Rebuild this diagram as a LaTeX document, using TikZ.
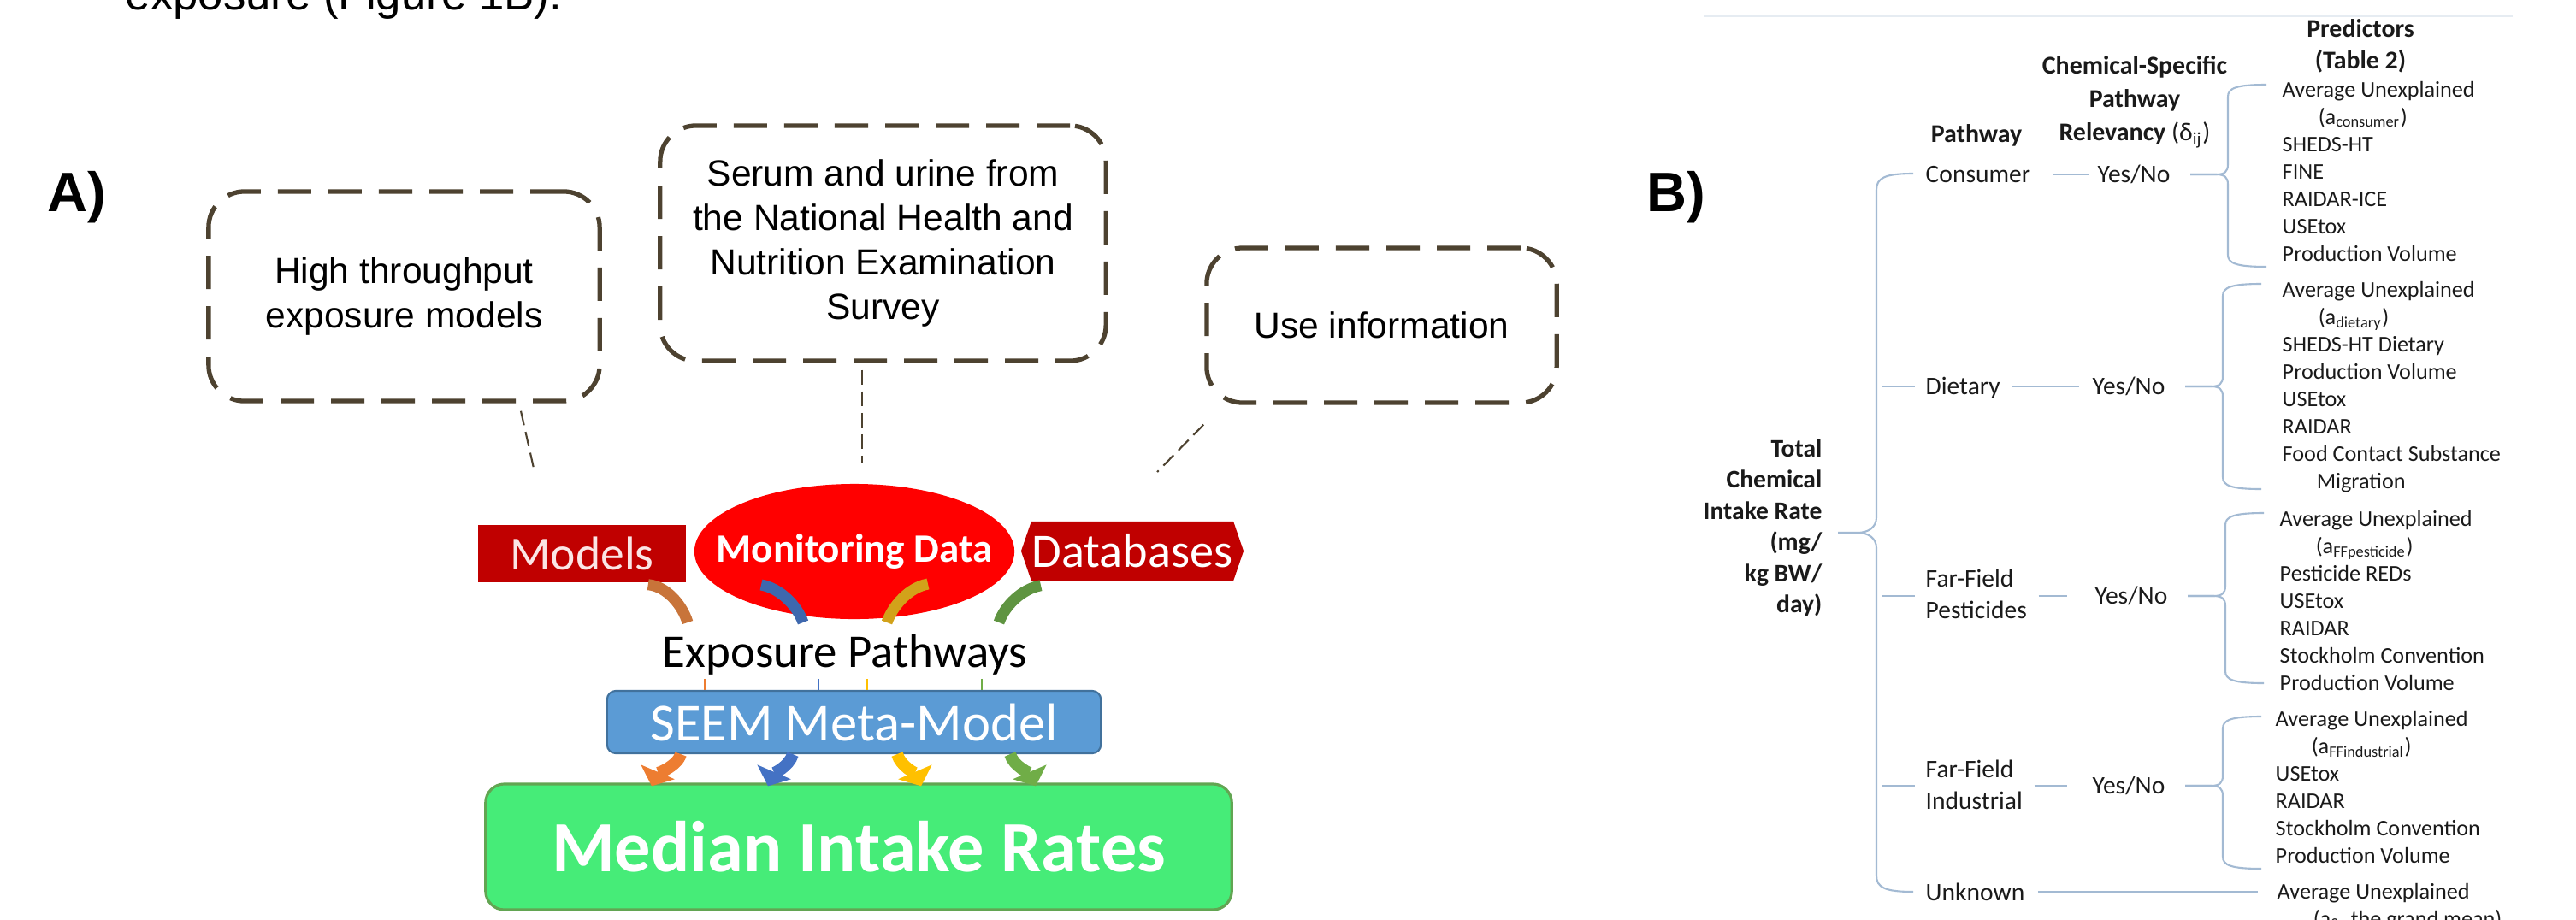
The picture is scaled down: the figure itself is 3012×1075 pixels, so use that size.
\documentclass[tikz,border=0pt]{standalone}
\usepackage{fontspec}
\setmainfont{Liberation Sans}
\newfontfamily\cali{Carlito}
\usepackage{xcolor}
\usepackage{tikz}
\usetikzlibrary{shapes.geometric, shapes.symbols, arrows.meta, positioning, calc}
\definecolor{calloutbrown}{HTML}{4D4230}
\definecolor{dkred}{HTML}{C00000}
\definecolor{brred}{HTML}{FF0000}
\definecolor{modeltxt}{HTML}{FBE5E5}
\definecolor{seemblue}{HTML}{5B9BD5}
\definecolor{seemedge}{HTML}{41719C}
\definecolor{medgreen}{HTML}{46EC78}
\definecolor{medgedge}{HTML}{62A552}
\definecolor{arrorange}{HTML}{ED7D31}
\definecolor{arrblue}{HTML}{4472C4}
\definecolor{arryellow}{HTML}{FFC000}
\definecolor{arrgreen}{HTML}{70AD47}
\definecolor{uporange}{HTML}{C8743A}
\definecolor{upblue}{HTML}{3E68AE}
\definecolor{upyellow}{HTML}{D2A21A}
\definecolor{upgreen}{HTML}{5F9441}
\definecolor{treeblue}{HTML}{A3BAD3}
\definecolor{treetext}{HTML}{1A1A1A}
\definecolor{faintline}{HTML}{E6ECF2}
\tikzstyle{panel} = [anchor=base west, inner sep=0pt, font=\bfseries\fontsize{18.5pt}{22pt}\selectfont]
\tikzstyle{callout} = [rectangle, draw=calloutbrown, line width=1.5pt, dash pattern=on 0.39cm off 0.2cm, rounded corners=0.42cm, align=center, inner sep=0pt, font=\fontsize{12.1pt}{14.8pt}\selectfont]
\tikzstyle{pointer} = [draw=calloutbrown, line width=0.6pt, dash pattern=on 0.17cm off 0.08cm]
\tikzstyle{band} = [line width=0.13cm]
\tikzstyle{bandarrow} = [line width=0.14cm, -{Triangle[width=0.42cm,length=0.18cm]}]
\tikzstyle{tick} = [line width=0.6pt]
\tikzstyle{branch} = [draw=treeblue, line width=0.6pt]
\tikzstyle{pred} = [anchor=base west, inner sep=0pt, text=treetext, font=\cali\fontsize{7.45pt}{9pt}\selectfont]
\tikzstyle{pathlbl} = [anchor=west, inner sep=0pt, align=left, text=treetext, font=\cali\fontsize{8.4pt}{10.5pt}\selectfont]
\tikzstyle{yesno} = [inner sep=0pt, text=treetext, font=\cali\fontsize{8.4pt}{10.5pt}\selectfont]
\tikzstyle{hdr} = [inner sep=0pt, align=center, text=treetext, font=\cali\bfseries\fontsize{8.5pt}{11.1pt}\selectfont]
% brace from a Yes/No node: #2 = rise to top end, #3 = drop to bottom end
\newcommand{\predbrace}[3]{%
  \draw[branch] ($(#1.east)+(23,0)$) -- ++(30,0) .. controls +(10,0) and +(0,9) .. ++(14,-12) -- ++(0,{26-#2}) .. controls +(0,-10) and +(-35,0) .. ++(45,-14);
  \draw[branch] ($(#1.east)+(23,0)$) -- ++(30,0) .. controls +(10,0) and +(0,-9) .. ++(14,12) -- ++(0,{#3-26}) .. controls +(0,10) and +(-35,0) .. ++(45,14);
}

\begin{document}
\begin{tikzpicture}[x=0.01cm, y=-0.01cm]
        \useasboundingbox (0,0) rectangle (3012,1075);
        \clip (0,0) rectangle (3012,1075);

        \node (runin) [anchor=base west, inner sep=0pt, font=\fontsize{15pt}{18pt}\selectfont] at (146,11) {exposure (Figure 1B).};

        % panel A
        \node (lblA) [panel] at (55,247) {A)};
        \node (hts) [callout, minimum width=4.57cm, minimum height=2.45cm] at (472.5,346.5) {High throughput\\exposure models};
        \node (nhanes) [callout, minimum width=5.21cm, minimum height=2.75cm] at (1032.5,284.5) {Serum and urine from\\the National Health and\\Nutrition Examination\\Survey};
        \node (useinfo) [callout, minimum width=4.09cm, minimum height=1.81cm] at (1615.5,380.5) {Use information};

        \coordinate (hts-end) at (625,552);
        \coordinate (nhanes-end) at (1008,542);
        \coordinate (use-end) at (1353,552);
        \draw [pointer] ($(hts.south)+(136.5,9)$) -- (hts-end);
        \draw [pointer] ($(nhanes.south)+(-24.5,8)$) -- (nhanes-end);
        \draw [pointer] ($(useinfo.south west)+(-1,23)$) -- (use-end);

        \node (models) [rectangle, fill=dkred, minimum width=2.43cm, minimum height=0.67cm, inner sep=0pt, text=modeltxt, font=\cali\fontsize{15.8pt}{18pt}\selectfont] at (680.5,647.5) {Models};
        \node (monit) [ellipse, fill=brred, minimum width=3.74cm, minimum height=1.58cm, inner sep=0pt,
            label={[text=white, inner sep=0pt, font=\cali\bfseries\fontsize{13.4pt}{16pt}\selectfont]center:Monitoring Data}] at (999,645) {};
        \node (dbase) [signal, signal to=west and east, signal pointer angle=142, fill=dkred, minimum width=2.6cm, minimum height=0.69cm, inner sep=0pt, text=white, font=\cali\fontsize{16pt}{18pt}\selectfont] at (1324,644.5) {Databases};

        \node (expo) [inner sep=0pt, font=\cali\fontsize{15.6pt}{18pt}\selectfont] at (988,766) {Exposure Pathways};

        \draw [band, uporange] ($(models.south east)+(-45,2)$) .. controls +(22,2) and +(-6,-20) .. ($(expo.center)+(-184,-38)$);
        \draw [band, upblue] ($(monit.center)+(-109,39)$) .. controls +(22,4) and +(-7,-20) .. ($(expo.center)+(-49,-38)$);
        \draw [band, upyellow] ($(monit.center)+(86,38)$) .. controls +(-22,4) and +(7,-20) .. ($(expo.center)+(49,-38)$);
        \draw [band, upgreen] ($(dbase.south)+(-107,5)$) .. controls +(-22,4) and +(7,-20) .. ($(expo.center)+(180,-38)$);

        \node (median) [rectangle, rounded corners=0.22cm, fill=medgreen, draw=medgedge, line width=0.9pt, minimum width=8.72cm, minimum height=1.47cm, text=white, font=\cali\bfseries\fontsize{24pt}{28pt}\selectfont] at (1004,990.5) {Median Intake Rates};
        \node (seem) [rectangle, rounded corners=0.1cm, fill=seemblue, draw=seemedge, line width=0.6pt, minimum width=5.77cm, minimum height=0.73cm, inner sep=0pt, text=white, font=\cali\fontsize{17.8pt}{20pt}\selectfont] at (998.5,844.5) {SEEM Meta-Model};

        \draw [bandarrow, arrorange] ($(seem.south)+(-202.5,0)$) .. controls +(-4,14) and +(6,-14) .. ($(median.north)+(-242,4)$);
        \draw [bandarrow, arrblue] ($(seem.south)+(-71.5,0)$) .. controls +(-4,14) and +(6,-14) .. ($(median.north)+(-106,4)$);
        \draw [bandarrow, arryellow] ($(seem.south)+(50.5,0)$) .. controls +(4,14) and +(-6,-14) .. ($(median.north)+(73,4)$);
        \draw [bandarrow, arrgreen] ($(seem.south)+(182.5,0)$) .. controls +(4,14) and +(-6,-14) .. ($(median.north)+(207,4)$);

        \draw [tick, arrorange] ($(seem.north)+(-174.5,-13)$) -- ($(seem.north)+(-174.5,0)$);
        \draw [tick, arrblue] ($(seem.north)+(-41.5,-13)$) -- ($(seem.north)+(-41.5,0)$);
        \draw [tick, arryellow] ($(seem.north)+(15.5,-13)$) -- ($(seem.north)+(15.5,0)$);
        \draw [tick, arrgreen] ($(seem.north)+(149.5,-13)$) -- ($(seem.north)+(149.5,0)$);

        % panel B
        \node (lblB) [panel] at (1925,247) {B)};
        \draw [line width=0.9pt, draw=faintline] (1992,18.5) -- (2938,18.5);

        \node (hdrpred) [hdr, font=\cali\bfseries\fontsize{8.5pt}{10.5pt}\selectfont] at (2760,54) {Predictors\\(Table 2)};
        \node (hdrrel) [hdr] at (2496,119.5) {Chemical-Specific\\Pathway\\Relevancy {\mdseries(δ\textsubscript{ij})}};
        \node (hdrpath) [hdr, anchor=base] at (2311,166) {Pathway};
        \node (total) [hdr, align=right, anchor=east, font=\cali\bfseries\fontsize{8.4pt}{10.4pt}\selectfont] at (2131,617.5) {Total\\Chemical\\Intake Rate\\(mg/\\kg BW/\\day)};

        \node (cons) [pathlbl] at (2251,204) {Consumer};
        \node (diet) [pathlbl] at (2251,454) {Dietary};
        \node (ffp) [pathlbl] at (2251,695) {Far-Field\\Pesticides};
        \node (ffi) [pathlbl] at (2251,918) {Far-Field\\Industrial};
        \node (unk) [pathlbl] at (2251,1043) {Unknown};

        \node (consyn) [yesno] at (2495,204) {Yes/No};
        \node (dietyn) [yesno] at (2489,452) {Yes/No};
        \node (ffpyn) [yesno] at (2492,697) {Yes/No};
        \node (ffiyn) [yesno] at (2489,919) {Yes/No};

        \foreach \txt [count=\i from 0] in {Average Unexplained, \hspace*{0.42cm}(a\textsubscript{consumer}), SHEDS-HT, FINE, RAIDAR-ICE, USEtox, Production Volume}
            \node (consp\i) [pred] at (2668,113+32*\i) {\txt};
        \foreach \txt [count=\i from 0] in {Average Unexplained, \hspace*{0.42cm}(a\textsubscript{dietary}), SHEDS-HT Dietary, Production Volume, USEtox, RAIDAR, Food Contact Substance, \hspace*{0.4cm}Migration}
            \node (dietp\i) [pred] at (2668,347+32*\i) {\txt};
        \foreach \txt [count=\i from 0] in {Average Unexplained, \hspace*{0.42cm}(a\textsubscript{FFpesticide}), Pesticide REDs, USEtox, RAIDAR, Stockholm Convention, Production Volume}
            \node (ffpp\i) [pred] at (2665,615+32*\i) {\txt};
        \foreach \txt [count=\i from 0] in {Average Unexplained, \hspace*{0.42cm}(a\textsubscript{FFindustrial}), USEtox, RAIDAR, Stockholm Convention, Production Volume}
            \node (ffip\i) [pred] at (2660,849+32*\i) {\txt};
        \foreach \txt [count=\i from 0] in {Average Unexplained, {\hspace*{0.42cm}(a\textsubscript{0}, the grand mean)}}
            \node (unkp\i) [pred] at (2662,1051+32*\i) {\txt};

        % main brace
        \draw [branch] ($(total.east)+(18,5.5)$) -- ++(23,0) .. controls +(12,0) and +(0,12) .. ++(22,-18) -- (2194,222) .. controls (2194,208) and (2204,203) .. ($(cons.west)+(-14,-1)$);
        \draw [branch] ($(total.east)+(41,5.5)$) .. controls +(12,0) and +(0,-12) .. ++(22,18) -- (2194,1024) .. controls (2194,1038) and (2204,1043) .. ($(unk.west)+(-14,0)$);
        \draw [branch] ($(dietyn.west -| diet.west)+(-50,0)$) -- ($(dietyn.west -| diet.west)+(-12,0)$);
        \draw [branch] ($(ffpyn.west -| ffp.west)+(-50,0)$) -- ($(ffpyn.west -| ffp.west)+(-12,0)$);
        \draw [branch] ($(ffiyn.west -| ffi.west)+(-50,0)$) -- ($(ffiyn.west -| ffi.west)+(-12,0)$);

        \draw [branch] ($(consyn.west -| cons.east)+(26,0)$) -- ($(consyn.west)+(-10,0)$);
        \draw [branch] ($(dietyn.west -| diet.east)+(13,0)$) -- ($(dietyn.west)+(-15,0)$);
        \draw [branch] ($(ffpyn.west -| ffp.east)+(13,0)$) -- ($(ffpyn.west)+(-32,0)$);
        \draw [branch] ($(ffiyn.west -| ffi.east)+(13,0)$) -- ($(ffiyn.west)+(-29,0)$);
        \draw [branch] ($(unk.east)+(15,0)$) -- ($(unk.east -| unkp0.west)+(-22,0)$);

        \predbrace{consyn}{105}{108}
        \predbrace{dietyn}{120}{120}
        \predbrace{ffpyn}{97}{102}
        \predbrace{ffiyn}{81}{97}
\end{tikzpicture}
\end{document}
